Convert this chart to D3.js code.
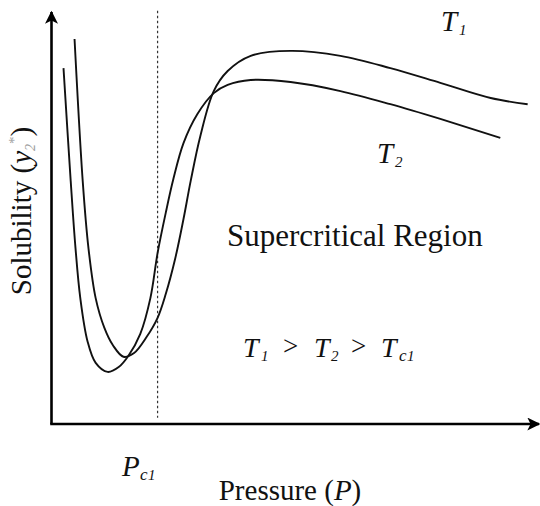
<!DOCTYPE html>
<html>
<head>
<meta charset="utf-8">
<script src="https://cdn.jsdelivr.net/npm/d3@7/dist/d3.min.js"></script>
<style>
  html, body { margin: 0; padding: 0; background: #fff; }
  svg { display: block; }
  text { font-family: "Liberation Serif", "Times New Roman", serif; fill: #111; }
</style>
</head>
<body>
<svg id="chart" width="540" height="506"></svg>
<script>
// Solubility isotherms (arbitrary units) versus pressure (arbitrary units)
const pressureT1 = [4.8, 6.5, 7.7, 9.2, 11.0, 12.8, 15.0, 17.2, 19.8, 22.1, 23.8, 25.8, 27.5, 29.0, 31.0, 33.8, 36.7, 41.5, 49.8, 60.2, 70.6, 81.0, 91.5, 99.2];
const solubilityT1 = [93.9, 59.3, 42.9, 30.7, 23.5, 19.2, 16.4, 17.3, 21.2, 25.9, 31.7, 40.5, 50.0, 59.3, 70.2, 81.2, 86.1, 89.8, 91.0, 89.8, 86.8, 83.2, 79.5, 78.0];

const pressureT2 = [2.5, 4.0, 5.0, 6.0, 7.5, 9.2, 11.7, 14.0, 16.0, 18.5, 20.6, 22.1, 23.8, 25.4, 27.5, 30.4, 33.8, 36.7, 41.5, 49.8, 60.2, 70.6, 81.0, 93.5];
const solubilityT2 = [86.8, 59.3, 42.9, 30.7, 20.2, 14.9, 12.7, 13.9, 16.6, 22.0, 30.7, 41.7, 51.5, 59.8, 68.5, 75.6, 80.7, 82.7, 83.9, 83.4, 81.2, 78.0, 74.4, 69.8];

// Critical pressure of the solvent
const criticalPressure = 22.1;

const svg = d3.select("#chart");

const x = d3.scaleLinear().domain([0, 100]).range([51.5, 531.5]);
const y = d3.scaleLinear().domain([0, 100]).range([424, 14]);

// Arrowheads for the axes
const defs = svg.append("defs");
defs.append("marker")
  .attr("id", "arrow")
  .attr("viewBox", "0 0 10 10")
  .attr("refX", 9).attr("refY", 5)
  .attr("markerWidth", 5.2).attr("markerHeight", 5)
  .attr("markerUnits", "strokeWidth")
  .attr("orient", "auto")
  .append("path")
  .attr("d", "M0,0 L10,5 L0,10 L2.5,5 Z")
  .attr("fill", "#000");

// Dashed critical-pressure line
svg.append("line")
  .attr("x1", x(criticalPressure)).attr("x2", x(criticalPressure))
  .attr("y1", y(100.8)).attr("y2", y(1.5))
  .attr("stroke", "#333")
  .attr("stroke-width", 1.2)
  .attr("stroke-dasharray", "2.5,2.5");

// Axes
svg.append("line")
  .attr("x1", x(0)).attr("y1", y(0))
  .attr("x2", x(0)).attr("y2", y(100) - 2)
  .attr("stroke", "#000").attr("stroke-width", 2.6)
  .attr("marker-end", "url(#arrow)");

svg.append("line")
  .attr("x1", x(0) - 1.3).attr("y1", y(0))
  .attr("x2", x(100) + 7.5).attr("y2", y(0))
  .attr("stroke", "#000").attr("stroke-width", 2.6)
  .attr("marker-end", "url(#arrow)");

// Isotherms
const line = d3.line()
  .x(d => x(d[0]))
  .y(d => y(d[1]))
  .curve(d3.curveCatmullRom.alpha(0.5));

const series = [
  d3.zip(pressureT1, solubilityT1),
  d3.zip(pressureT2, solubilityT2)
];

svg.selectAll("path.isotherm")
  .data(series)
  .join("path")
  .attr("class", "isotherm")
  .attr("d", line)
  .attr("fill", "none")
  .attr("stroke", "#111")
  .attr("stroke-width", 1.9)
  .attr("stroke-linejoin", "round");

// Labels
const faint = "#a0a0a0";

// Places one piece of a label at an absolute position
function piece(px, py, str, size, opts = {}) {
  return svg.append("text")
    .attr("x", px).attr("y", py)
    .attr("font-size", size)
    .attr("font-style", opts.italic ? "italic" : null)
    .attr("fill", opts.fill || null)
    .text(str);
}

// Isotherm names
piece(441, 31, "T", 29, { italic: true });
piece(459, 35, "1", 15, { italic: true, fill: faint });
piece(377, 163, "T", 29, { italic: true });
piece(395, 167, "2", 15, { italic: true, fill: faint });

piece(227, 246, "Supercritical Region", 31);

// T1 > T2 > Tc1
piece(243, 357, "T", 28, { italic: true });
piece(261, 361, "1", 15, { italic: true, fill: faint });
piece(283, 355, ">", 27, { fill: faint });
piece(314, 357, "T", 28, { italic: true });
piece(331, 361, "2", 15, { italic: true, fill: faint });
piece(351, 355, ">", 27, { fill: faint });
piece(381, 357, "T", 28, { italic: true });
piece(399, 361, "c", 17, { italic: true });
piece(407, 361, "1", 15, { italic: true, fill: faint });

// Critical pressure label
piece(122, 476, "P", 29, { italic: true });
piece(140, 480, "c", 17, { italic: true });
piece(148, 480, "1", 15, { italic: true, fill: faint });

// Axis titles
const xt = svg.append("text")
  .attr("x", 290).attr("y", 500)
  .attr("text-anchor", "middle")
  .attr("font-size", 29);
xt.append("tspan").text("Pressure (");
xt.append("tspan").attr("font-style", "italic").text("P");
xt.append("tspan").text(")");

const yt = svg.append("text")
  .attr("transform", "translate(31,211) rotate(-90)")
  .attr("text-anchor", "middle")
  .attr("font-size", 29);
yt.append("tspan").text("Solubility (");
yt.append("tspan").attr("font-style", "italic").text("y");
yt.append("tspan").attr("font-style", "italic").attr("font-size", 14).attr("dy", 4).attr("fill", faint).text("2");
yt.append("tspan").attr("font-size", 15).attr("dy", -16).attr("fill", faint).text("*");
yt.append("tspan").attr("dy", 12).text(")");
</script>
</body>
</html>
